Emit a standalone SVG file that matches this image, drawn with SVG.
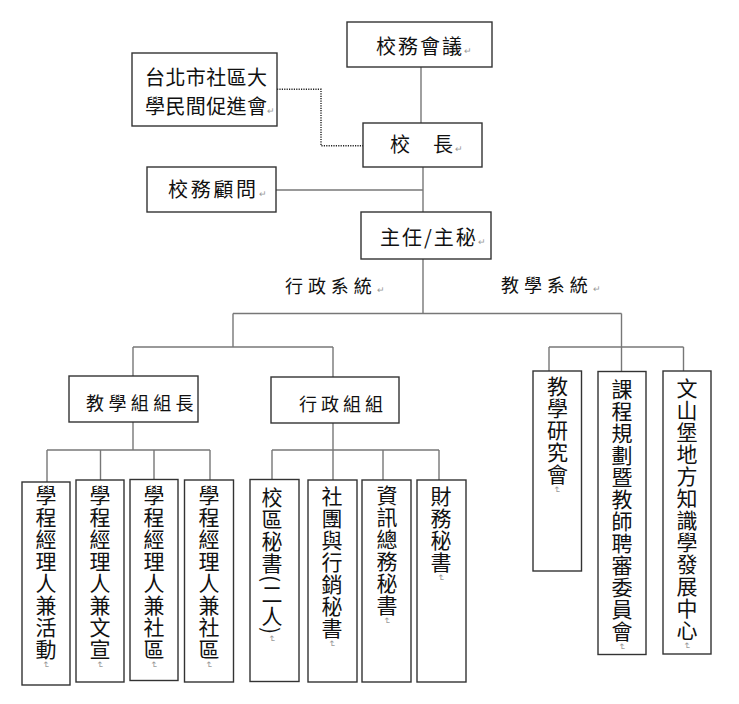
<svg xmlns="http://www.w3.org/2000/svg" width="739" height="704" viewBox="0 0 739 704">
<style>
.box{fill:#fff;stroke:#333;stroke-width:1.4}
.ln{fill:none;stroke:#777;stroke-width:1.4}
.dot{fill:none;stroke:#222;stroke-width:1.4;stroke-dasharray:1.2 1.2}
text{font-family:"Noto Sans CJK TC","Noto Sans CJK SC",sans-serif;fill:#111}
.h20{font-size:20px}
.h18{font-size:18px}
.v{font-size:21px;writing-mode:vertical-rl;letter-spacing:1px}
.pm{font-size:9px;fill:#999}
</style>
<rect width="739" height="704" fill="#fff"/>
<g id="connectors">
<path class="dot" d="M277,89.3 H321 V145.7 H363"/>
<path class="ln" d="M421,67 V123"/>
<path class="ln" d="M423,167 V212"/>
<path class="ln" d="M276,190 H423"/>
<path class="ln" d="M423,259 V313.5"/>
<path class="ln" d="M233,313.5 H621.5"/>
<path class="ln" d="M233,313.5 V347"/>
<path class="ln" d="M133,347 H333"/>
<path class="ln" d="M133,347 V376"/>
<path class="ln" d="M333,347 V377"/>
<path class="ln" d="M133,422 V450"/>
<path class="ln" d="M47,450 H210"/>
<path class="ln" d="M47,450 V482 M100.5,450 V480 M154,450 V479.5 M210,450 V480"/>
<path class="ln" d="M333,423 V450"/>
<path class="ln" d="M272,450 H439"/>
<path class="ln" d="M272,450 V479.5 M333,450 V480 M383,450 V480 M439,450 V480"/>
<path class="ln" d="M621.5,313.5 V371.5"/>
<path class="ln" d="M549,347 H683.5"/>
<path class="ln" d="M549,347 V371 M683.5,347 V371"/>
</g>
<g id="n_xiaowu_huiyi">
<rect class="box" x="347" y="22" width="145" height="45"/>
<text class="h20" x="376" y="54" letter-spacing="2">校務會議<tspan class="pm">↵</tspan></text>
</g>
<g id="n_cujinhui">
<rect class="box" x="132" y="53" width="145" height="73"/>
<text class="h20" x="145" y="85" letter-spacing="0.4">台北市社區大</text>
<text class="h20" x="145" y="113.5" letter-spacing="0.4">學民間促進會<tspan class="pm">↵</tspan></text>
</g>
<g id="n_xiaozhang">
<rect class="box" x="363" y="123" width="119" height="44"/>
<text class="h20" x="390" y="152" letter-spacing="1.5">校　長<tspan class="pm">↵</tspan></text>
</g>
<g id="n_guwen">
<rect class="box" x="147" y="167" width="129" height="45"/>
<text class="h20" x="168" y="197" letter-spacing="2.7">校務顧問<tspan class="pm">↵</tspan></text>
</g>
<g id="n_zhuren">
<rect class="box" x="361" y="212" width="130" height="47"/>
<text class="h20" x="380" y="245" letter-spacing="2">主任/主秘<tspan class="pm">↵</tspan></text>
</g>
<g id="labels">
<text class="h18" x="285" y="292.5" letter-spacing="4.9">行政系統<tspan class="pm">↵</tspan></text>
<text class="h18" x="501" y="291.5" letter-spacing="4.9">教學系統<tspan class="pm">↵</tspan></text>
</g>
<g id="n_jiaoxue_zuzhang">
<rect class="box" x="69" y="376" width="129" height="46"/>
<text class="h18" x="86" y="409.5" letter-spacing="4.4">教學組組長</text>
</g>
<g id="n_xingzheng_zu">
<rect class="box" x="271" y="377" width="128" height="46"/>
<text class="h18" x="299" y="410.5" letter-spacing="4">行政組組</text>
</g>
<g id="n_l1">
<rect class="box" x="22" y="482" width="48" height="203"/>
<text class="v" x="46" y="484.5">學程經理人兼活動<tspan class="pm">↵</tspan></text>
</g>
<g id="n_l2">
<rect class="box" x="76" y="480" width="48" height="202"/>
<text class="v" x="100" y="484.5">學程經理人兼文宣<tspan class="pm">↵</tspan></text>
</g>
<g id="n_l3">
<rect class="box" x="130" y="479.5" width="48" height="201"/>
<text class="v" x="154" y="484.5">學程經理人兼社區<tspan class="pm">↵</tspan></text>
</g>
<g id="n_l4">
<rect class="box" x="184.5" y="480" width="49" height="202"/>
<text class="v" x="209" y="484.5">學程經理人兼社區<tspan class="pm">↵</tspan></text>
</g>
<g id="n_a1">
<rect class="box" x="250" y="479.5" width="49" height="202"/>
<text class="v" x="272" y="487">校區秘書(二人)<tspan class="pm">↵</tspan></text>
</g>
<g id="n_a2">
<rect class="box" x="308" y="480" width="49" height="202"/>
<text class="v" x="332" y="486">社團與行銷秘書<tspan class="pm">↵</tspan></text>
</g>
<g id="n_a3">
<rect class="box" x="362" y="480" width="49" height="202"/>
<text class="v" x="387" y="484.5">資訊總務秘書<tspan class="pm">↵</tspan></text>
</g>
<g id="n_a4">
<rect class="box" x="417" y="480" width="49" height="202"/>
<text class="v" x="441" y="486" letter-spacing="0.3">財務秘書<tspan class="pm">↵</tspan></text>
</g>
<g id="n_t1">
<rect class="box" x="533" y="371" width="48.5" height="200"/>
<text class="v" x="557.5" y="376" letter-spacing="1.5">教學研究會<tspan class="pm">↵</tspan></text>
</g>
<g id="n_t2">
<rect class="box" x="598" y="371.5" width="48" height="283"/>
<text class="v" x="622" y="378.5" letter-spacing="2.7">課程規劃暨教師聘審委員會<tspan class="pm">↵</tspan></text>
</g>
<g id="n_t3">
<rect class="box" x="663" y="371" width="48" height="283"/>
<text class="v" x="687" y="377.5" letter-spacing="0.8">文山堡地方知識學發展中心<tspan class="pm">↵</tspan></text>
</g>
</svg>
